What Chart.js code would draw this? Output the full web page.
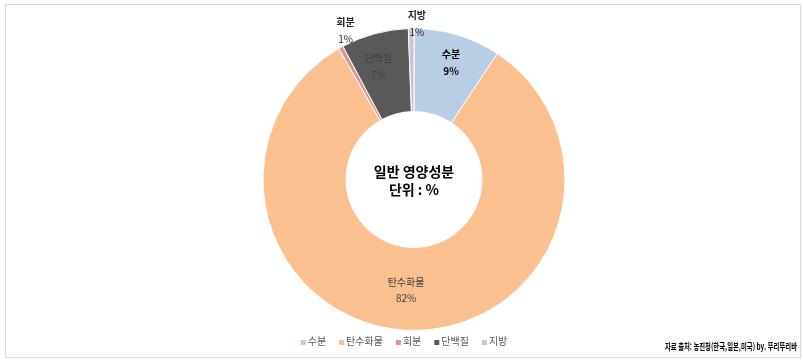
<!DOCTYPE html>
<html lang="ko">
<head>
<meta charset="utf-8">
<title>일반 영양성분</title>
<script src="https://cdn.jsdelivr.net/npm/chart.js@4.4.1/dist/chart.umd.min.js"></script>
<style>
  html, body { margin: 0; padding: 0; background: #fff; }
  #wrap { position: relative; width: 803px; height: 362px; }
</style>
</head>
<body>
<div id="wrap"><canvas id="nutrient-chart"></canvas></div>
<script>
// 성분별 비율 (%)
const categories = ['수분', '탄수화물', '회분', '단백질', '지방'];
const shares = [9.3, 82.4, 0.5, 7.2, 0.6];
const sliceColors = ['#b9cde5', '#fac090', '#d99694', '#595959', '#ccc1da'];
const centerLines = ['일반 영양성분', '단위 : %'];
const sourceNote = '자료 출처: 농진청(한국,일본,미국) by. 뚜리뚜리바';

const FONT = '"Noto Sans CJK KR", "Noto Sans", sans-serif';

// label look per slice (index follows categories)
const labelStyles = [
  { outside: false, dx: 5.5, dy: -12, nameColor: '#000', pctColor: '#000', bold: true, pctBold: true },
  { outside: false, dx: -4.5, dy: 1.5, nameColor: '#404040', pctColor: '#404040', bold: false, pctBold: false },
  { outside: true, dx: 12, dy: -3.5, nameColor: '#262626', pctColor: '#262626', bold: true, pctBold: false },
  { outside: false, dx: -7, dy: -7, nameColor: '#404040', pctColor: '#404040', bold: false, pctBold: false },
  { outside: true, dx: 6, dy: 10, nameColor: '#262626', pctColor: '#262626', bold: true, pctBold: false }
];

const sliceLabels = {
  id: 'sliceLabels',
  afterDatasetsDraw(chart) {
    const { ctx } = chart;
    const meta = chart.getDatasetMeta(0);
    const values = chart.data.datasets[0].data;
    const total = values.reduce((a, b) => a + b, 0);
    ctx.save();
    ctx.textAlign = 'center';
    ctx.textBaseline = 'middle';
    meta.data.forEach((arc, i) => {
      const st = labelStyles[i];
      const p = arc.getProps(['x', 'y', 'startAngle', 'endAngle', 'innerRadius', 'outerRadius'], true);
      const mid = (p.startAngle + p.endAngle) / 2;
      const r = st.outside ? p.outerRadius + 15 : (p.innerRadius + p.outerRadius) / 2;
      const x = p.x + Math.cos(mid) * r + st.dx;
      const y = p.y + Math.sin(mid) * r + st.dy;
      ctx.font = (st.bold ? 'bold ' : '') + '10px ' + FONT;
      ctx.fillStyle = st.nameColor;
      ctx.fillText(chart.data.labels[i], x, y - 8.2);
      ctx.font = (st.pctBold ? 'bold ' : '') + '10px ' + FONT;
      ctx.fillStyle = st.pctColor;
      ctx.fillText(Math.round(values[i] / total * 100) + '%', x, y + 8.2);
    });
    ctx.restore();
  }
};

const decorations = {
  id: 'decorations',
  beforeDraw(chart) {
    const { ctx } = chart;
    ctx.save();
    ctx.fillStyle = '#fff';
    ctx.fillRect(0, 0, chart.width, chart.height);
    ctx.strokeStyle = '#d9d9d9';
    ctx.lineWidth = 1;
    ctx.strokeRect(5.5, 4.5, 795, 353);
    ctx.restore();
  },
  afterDraw(chart) {
    const { ctx, chartArea } = chart;
    const cx = (chartArea.left + chartArea.right) / 2;
    const cy = (chartArea.top + chartArea.bottom) / 2;
    ctx.save();
    // center title
    ctx.textAlign = 'center';
    ctx.textBaseline = 'middle';
    ctx.fillStyle = '#000';
    ctx.font = 'bold 14px ' + FONT;
    ctx.fillText(centerLines[0], cx, cy - 8);
    ctx.fillText(centerLines[1], cx, cy + 10.5);

    // legend
    ctx.font = '10px ' + FONT;
    const box = 5, gapText = 2, gapItem = 13;
    const widths = categories.map(c => box + gapText + ctx.measureText(c).width);
    const full = widths.reduce((a, b) => a + b, 0) + gapItem * (categories.length - 1);
    let x = 404 - full / 2;
    const ly = 341.5;
    ctx.textAlign = 'left';
    categories.forEach((c, i) => {
      ctx.fillStyle = sliceColors[i];
      ctx.fillRect(x, ly - 1.5, box, box);
      ctx.fillStyle = '#595959';
      ctx.fillText(c, x + box + gapText, ly);
      x += widths[i] + gapItem;
    });

    // source note
    ctx.textAlign = 'right';
    ctx.fillStyle = '#000';
    ctx.font = 'bold 9px ' + FONT;
    ctx.fillText(sourceNote, 797, 347, 132);
    ctx.restore();
  }
};

const ctx = document.getElementById('nutrient-chart').getContext('2d');
new Chart(ctx, {
  type: 'doughnut',
  data: {
    labels: categories,
    datasets: [{
      data: shares,
      backgroundColor: sliceColors,
      borderColor: '#fff',
      borderWidth: 1,
      hoverOffset: 0,
      offset: 0
    }]
  },
  options: {
    responsive: true,
    maintainAspectRatio: false,
    animation: false,
    events: [],
    cutout: '45%',
    layout: {
      padding: { top: 28, bottom: 31, left: 25, right: 0 }
    },
    plugins: {
      legend: { display: false },
      tooltip: { enabled: false }
    }
  },
  plugins: [decorations, sliceLabels]
});
</script>
</body>
</html>
